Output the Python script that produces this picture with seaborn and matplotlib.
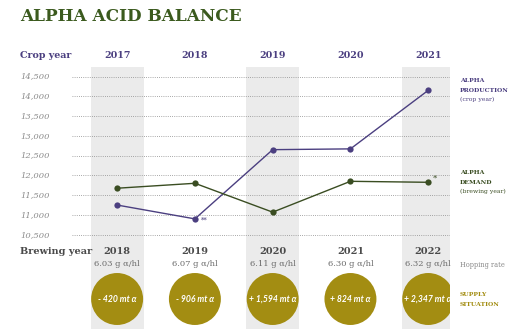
import matplotlib
matplotlib.use("Agg")
import matplotlib.pyplot as plt
import seaborn as sns
import pandas as pd

sns.set_theme(style="white")
plt.rcParams["font.family"] = ["DejaVu Serif", "DejaVu Sans"]

# ---- data ----
crop_years = ["2017", "2018", "2019", "2020", "2021"]
brewing_years = ["2018", "2019", "2020", "2021", "2022"]
alpha_production = [11250, 10900, 12650, 12670, 14150]
alpha_demand = [11675, 11800, 11070, 11850, 11825]
hopping_rate = [6.03, 6.07, 6.11, 6.30, 6.32]
supply_balance = [-420, -906, 1594, 824, 2347]
y_ticks = [10500, 11000, 11500, 12000, 12500, 13000, 13500, 14000, 14500]

PURPLE = "#4b3f80"
GREEN = "#3a4d22"
TITLE_GREEN = "#3b5a1e"
GOLD = "#a38d12"
BAND = "#ebebeb"
GREY_TXT = "#8a8a8a"

W, H = 512, 329
fig = plt.figure(figsize=(W / 100, H / 100), dpi=100)

def px_axes(left, top, right, bottom):
    return fig.add_axes([left / W, 1 - bottom / H, (right - left) / W, (bottom - top) / H])

X_LIM = (-0.58, 4.28)
idx = list(range(len(brewing_years)))

# main chart area
ax = px_axes(72, 67, 450, 240)
df = pd.DataFrame({
    "x": idx * 2,
    "value": alpha_production + alpha_demand,
    "series": ["production"] * 5 + ["demand"] * 5,
})
for i in idx[::2]:
    ax.axvspan(i - 0.34, i + 0.34, color=BAND, lw=0, zorder=0)
for t in y_ticks:
    ax.axhline(t, color="#8c8c8c", lw=0.6, ls=(0, (1, 1.6)), zorder=1)
sns.lineplot(data=df, x="x", y="value", hue="series",
             palette={"production": PURPLE, "demand": GREEN},
             marker="o", markersize=4.5, markeredgewidth=0, lw=1.0,
             legend=False, ax=ax, zorder=3)
ax.set_xlim(*X_LIM)
# 14,500 sits at pixel row 76.5, 10,500 at 234.7
ppu = (234.7 - 76.5) / 4000
ax.set_ylim(10500 - (240 - 234.7) / ppu, 10500 + (234.7 - 67) / ppu)
ax.set_xticks([])
ax.set_yticks([])
ax.set_xlabel("")
ax.set_ylabel("")
for s in ax.spines.values():
    s.set_visible(False)
ax.patch.set_alpha(0)

# footnote marks
ax.annotate("**", (1, alpha_production[1]), xytext=(4, -3), textcoords="offset points",
            fontsize=5, color=PURPLE)
ax.annotate("*", (4, alpha_demand[4]), xytext=(3, 1), textcoords="offset points",
            fontsize=6, color=GREEN)

# lower strip: brewing years, hopping rates and supply circles
bx = px_axes(72, 240, 450, 329)
bx.set_xlim(*X_LIM)
bx.set_ylim(329, 240)
for i in idx[::2]:
    bx.axvspan(i - 0.34, i + 0.34, color=BAND, lw=0, zorder=0)
sns.scatterplot(x=idx, y=[299] * 5, s=1400, color=GOLD, edgecolor="none", ax=bx, zorder=2)
for i in idx:
    bx.text(i, 251, brewing_years[i], ha="center", va="center", fontsize=7,
            fontweight="bold", color="#4a4a4a")
    bx.text(i, 264, f"{hopping_rate[i]:.2f} g α/hl", ha="center", va="center",
            fontsize=6, color="#6a6a6a")
    v = supply_balance[i]
    sign = "+" if v > 0 else "-"
    bx.text(i, 299, f"{sign} {abs(v):,} mt α", ha="center", va="center", fontsize=6.2,
            fontweight="bold", fontstyle="italic", color="white", zorder=3,
            family=["Lato", "DejaVu Sans"])
bx.axis("off")

# overlay for free text in pixel coordinates
ov = fig.add_axes([0, 0, 1, 1])
ov.set_xlim(0, W)
ov.set_ylim(H, 0)
ov.axis("off")
ov.patch.set_alpha(0)

ov.text(20, 16.5, "ALPHA ACID BALANCE", fontsize=12.2, fontweight="bold",
        color=TITLE_GREEN, va="center", ha="left")
ov.text(20, 55, "Crop year", fontsize=6.8, fontweight="bold", color=PURPLE, va="center")
for i, cy in enumerate(crop_years):
    xp = 72 + (i - X_LIM[0]) / (X_LIM[1] - X_LIM[0]) * (450 - 72)
    ov.text(xp, 55, cy, fontsize=6.8, fontweight="bold", color=PURPLE,
            ha="center", va="center")
ov.text(20, 251, "Brewing year", fontsize=7, fontweight="bold", color="#4a4a4a", va="center")

for t in y_ticks:
    yp = 234.7 - (t - 10500) * ppu
    ov.text(20, yp, f"{t:,}", fontsize=6, fontstyle="italic", color=GREY_TXT,
            va="center", ha="left")

side = dict(fontsize=4.4, ha="left", va="center")
ov.text(460, 80.5, "ALPHA", fontweight="bold", color=PURPLE, **side)
ov.text(460, 90, "PRODUCTION", fontweight="bold", color=PURPLE, **side)
ov.text(460, 99.5, "(crop year)", color=PURPLE, **side)
ov.text(460, 173, "ALPHA", fontweight="bold", color=GREEN, **side)
ov.text(460, 182, "DEMAND", fontweight="bold", color=GREEN, **side)
ov.text(460, 191, "(brewing year)", color=GREEN, **side)
ov.text(460, 265, "Hopping rate", fontsize=4.8, color=GREY_TXT, va="center", ha="left")
ov.text(460, 295, "SUPPLY", fontweight="bold", color=GOLD, **side)
ov.text(460, 304, "SITUATION", fontweight="bold", color=GOLD, **side)

fig.savefig("out.png", dpi=100)
